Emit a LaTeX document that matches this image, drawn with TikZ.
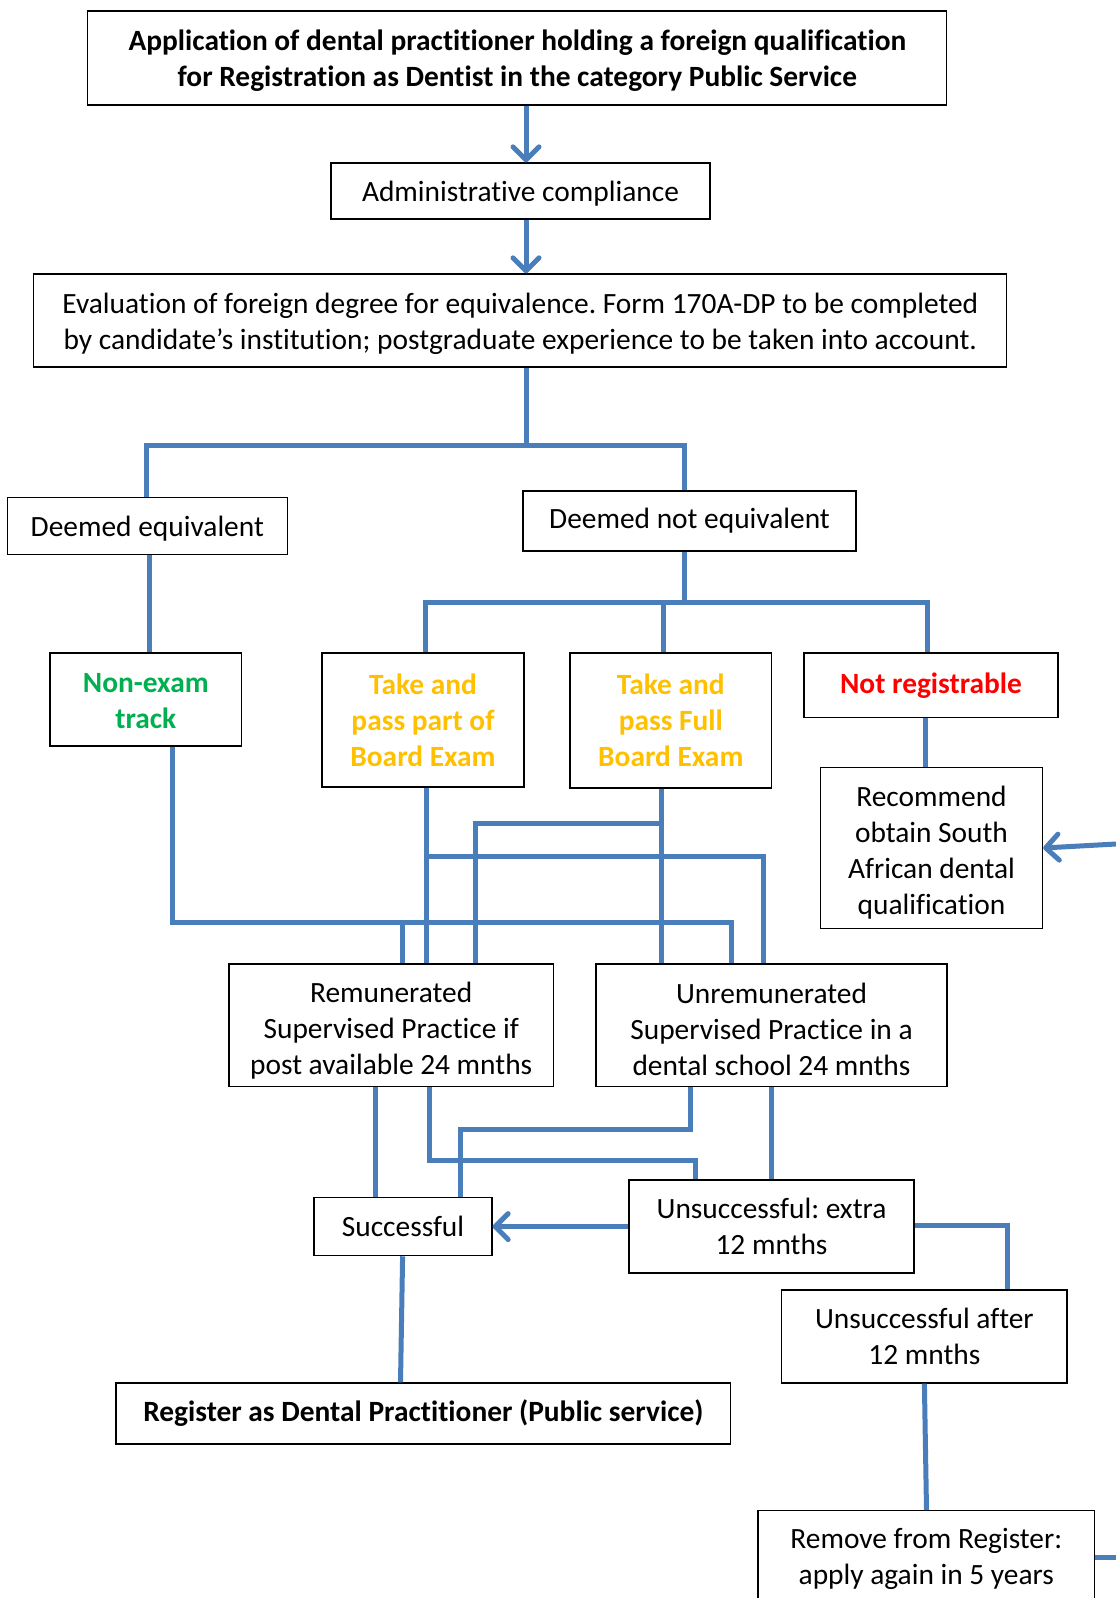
\documentclass[tikz,border=0pt]{standalone}
\usepackage{fontspec}
\setmainfont{Carlito}[Ligatures=NoCommon]
\usetikzlibrary{arrows.meta}
\definecolor{lnblue}{HTML}{4A7EBB}
\definecolor{trkgreen}{HTML}{00B050}
\definecolor{trkgold}{HTML}{FFC000}
\definecolor{trkred}{HTML}{FF0000}
\newcommand\dnln[2]{\raisebox{-#1}[\height][\depth]{#2}}
\frenchspacing
\begin{document}
\begin{tikzpicture}[x=1pt,y=-1pt,
  box/.style={draw=black, line width=1.3pt, inner sep=0pt, align=center,
    font=\fontsize{29.4}{36}\selectfont},
  ln/.style={draw=lnblue, line width=5pt},
  arr/.style={ln, -{Straight Barb[length=13pt,width=26pt,round]}}]
\useasboundingbox (0,0) rectangle (1116,1598);
\fill[white] (0,0) rectangle (1116,1598);

% boxes
\node[box, minimum width=859pt, minimum height=94pt] (top) at (517.3,58.1)
  {\dnln{2.5pt}{\bfseries Application of dental practitioner holding a foreign qualification}\\
   \dnln{2.5pt}{\bfseries for Registration as Dentist in the category Public Service}};
\node[box, minimum width=379pt, minimum height=56pt] (admin) at (520.5,191)
  {\dnln{3pt}{Administrative compliance}};
\node[box, minimum width=973pt, minimum height=93pt] (eval) at (520.3,320.5)
  {\dnln{3pt}{Evaluation of foreign degree for equivalence. Form 170A-DP to be completed}\\
   \dnln{3pt}{by candidate’s institution; postgraduate experience to be taken into account.}};
\node[box, minimum width=280pt, minimum height=57pt] (deq) at (147.3,525.7)
  {\dnln{3pt}{Deemed equivalent}};
\node[box, minimum width=333pt, minimum height=60pt] (dneq) at (689.5,521) {Deemed not equivalent};
\node[box, minimum width=191.5pt, minimum height=93pt] (nonexam) at (145.8,699.5)
  {\dnln{2pt}{\bfseries\color{trkgreen}Non-exam}\\\dnln{2pt}{\bfseries\color{trkgreen}track}};
\node[box, minimum width=202pt, minimum height=134pt] (part) at (423,720)
  {\bfseries\color{trkgold}Take and\\\bfseries\color{trkgold}pass part of\\\bfseries\color{trkgold}Board Exam};
\node[box, minimum width=201.5pt, minimum height=135pt] (full) at (670.8,720.5)
  {\bfseries\color{trkgold}Take and\\\bfseries\color{trkgold}pass Full\\\bfseries\color{trkgold}Board Exam};
\node[box, minimum width=254pt, minimum height=64.5pt] (notreg) at (931,685.3)
  {\bfseries\color{trkred}Not registrable};
\node[box, minimum width=222pt, minimum height=161pt] (recommend) at (931.5,848)
  {\dnln{5pt}{Recommend}\\\dnln{5pt}{obtain South}\\\dnln{5pt}{African dental}\\\dnln{5pt}{qualification}};
\node[box, minimum width=324.4pt, minimum height=122.5pt] (remun) at (391.2,1025.3)
  {\dnln{5pt}{Remunerated}\\\dnln{5pt}{Supervised Practice if}\\\dnln{5pt}{post available 24 mnths}};
\node[box, minimum width=351pt, minimum height=122.5pt] (unremun) at (771.5,1025.3)
  {\dnln{4pt}{Unremunerated}\\\dnln{4pt}{Supervised Practice in a}\\\dnln{4pt}{dental school 24 mnths}};
\node[box, minimum width=178pt, minimum height=58pt] (success) at (403,1226.6) {Successful};
\node[box, minimum width=285pt, minimum height=93pt] (unsucc) at (771.5,1226.5)
  {Unsuccessful: extra\\12 mnths};
\node[box, minimum width=285.3pt, minimum height=93pt] (unsaft) at (924.4,1336.5)
  {Unsuccessful after\\12 mnths};
\node[box, minimum width=614.8pt, minimum height=61pt] (register) at (423.4,1413.5)
  {\bfseries Register as Dental Practitioner (Public service)};
\node[box, minimum width=336.6pt, minimum height=94pt, anchor=north] (remove) at (926.3,1510)
  {\dnln{1.5pt}{Remove from Register:}\\\dnln{1.5pt}{apply again in 5 years}};

% free ends at the page edge
\coordinate (inR) at (1116,844);
\coordinate (outR) at (1116,1557);

% connectors
\draw[arr] (top.south -| 526,0) -- (admin.north -| 526,0);
\draw[arr] (admin.south -| 526,0) -- (eval.north -| 526,0);
\draw[ln] (eval.south -| 526,0) -- (526,445);
\draw[ln] (deq.north -| 146,0) -- (146,445) -- (684,445) -- (dneq.north -| 684,0);
\draw[ln] (deq.south -| 149,0) -- (nonexam.north -| 149,0);
\draw[ln] (dneq.south -| 684,0) -- (684,602);
\draw[ln] (part.north -| 425,0) -- (425,602) -- (927.5,602) -- (notreg.north -| 927.5,0);
\draw[ln] (663.5,602) -- (full.north -| 663.5,0);
\draw[ln] (notreg.south -| 925.5,0) -- (recommend.north -| 925.5,0);
\draw[arr] (inR) -- (recommend.east);

% exam tracks to supervised practice
\draw[ln] (nonexam.south -| 172.4,0) -- (172.4,922) -- (731,922) -- (unremun.north -| 731,0);
\draw[ln] (402.7,922) -- (remun.north -| 402.7,0);
\draw[ln] (part.south -| 426.7,0) -- (remun.north -| 426.7,0);
\draw[ln] (426.7,856.7) -- (763.5,856.7) -- (unremun.north -| 763.5,0);
\draw[ln] (full.south -| 661,0) -- (unremun.north -| 661,0);
\draw[ln] (661,823.3) -- (475.3,823.3) -- (remun.north -| 475.3,0);

% supervised practice to outcomes
\draw[ln] (remun.south -| 375,0) -- (success.north -| 375,0);
\draw[ln] (remun.south -| 429,0) -- (429,1160) -- (695,1160) -- (unsucc.north -| 695,0);
\draw[ln] (unremun.south -| 690.7,0) -- (690.7,1129.3) -- (460,1129.3) -- (success.north -| 460,0);
\draw[ln] (unremun.south -| 771.5,0) -- (unsucc.north -| 771.5,0);
\draw[arr] (unsucc.west |- 0,1226.6) -- (success.east);
\draw[ln] (unsucc.east |- 0,1225) -- (1007,1225) -- (unsaft.north -| 1007,0);
\draw[ln] (success.south -| 402.6,0) -- (register.north -| 400.5,0);
\draw[ln] (unsaft.south -| 924.4,0) -- (remove.north -| 926.5,0);
\draw[ln] (remove.east |- outR) -- (outR);
\end{tikzpicture}
\end{document}
